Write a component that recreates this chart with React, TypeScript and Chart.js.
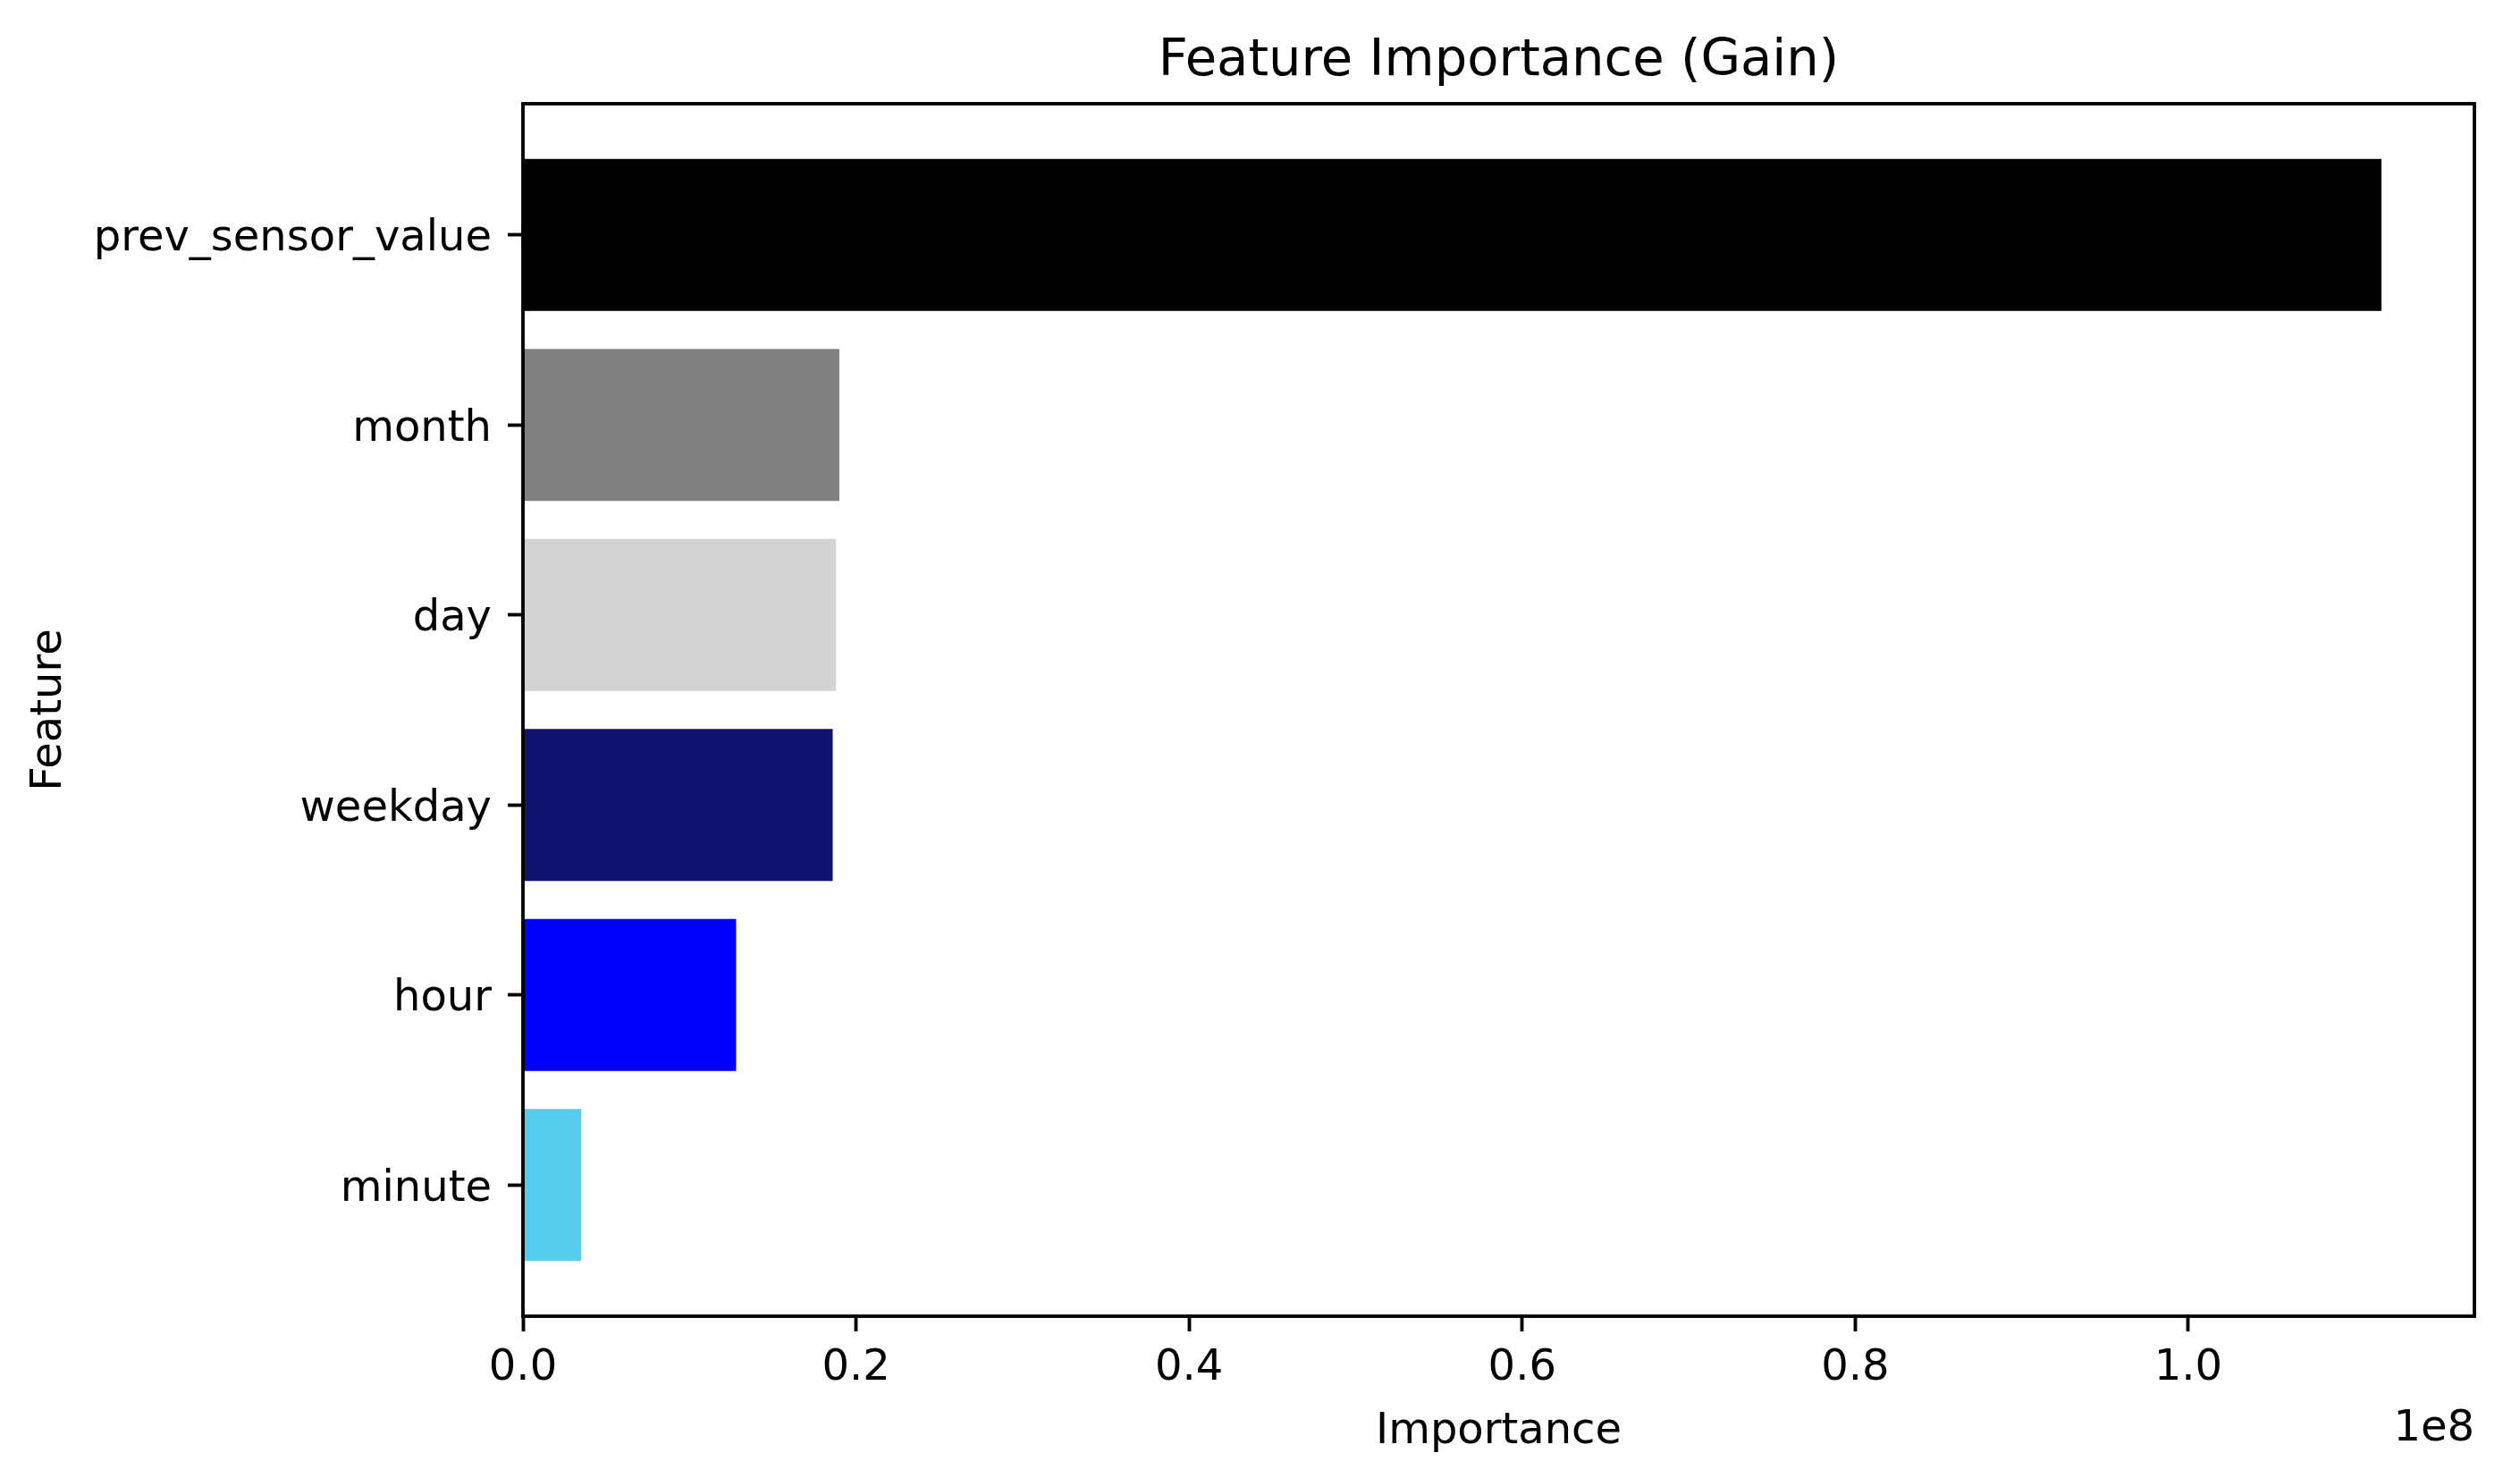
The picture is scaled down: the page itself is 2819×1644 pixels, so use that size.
import React, { useEffect, useRef } from "react";
import { Chart, registerables } from "chart.js";

Chart.register(...registerables);

// ---- data ----
const features = ["prev_sensor_value", "month", "day", "weekday", "hour", "minute"];
const importance = [1.116e8, 1.9e7, 1.88e7, 1.86e7, 1.28e7, 0.35e7];
const barColors = ["#000000", "#808080", "#d3d3d3", "#121270", "#0000ff", "#56cdea"];
const xTickValues = [0, 0.2e8, 0.4e8, 0.6e8, 0.8e8, 1.0e8];
const chartTitle = "Feature Importance (Gain)";
const xAxisTitle = "Importance";
const yAxisTitle = "Feature";
const offsetText = "1e8";

const FONT = "'DejaVu Sans', 'Liberation Sans', sans-serif";
const W = 2819;
const H = 1644;
const LINE = 3.85;

export default function App() {
  const ref = useRef<HTMLCanvasElement | null>(null);

  useEffect(() => {
    document.body.style.margin = "0";
    document.body.style.overflow = "hidden";
    const canvas = ref.current;
    if (!canvas) return;

    const n = features.length;
    const yMin = -0.4 - 0.05 * (n - 1 + 0.8);
    const yMax = n - 1 + 0.4 + 0.05 * (n - 1 + 0.8);
    const xMax = Math.max(...importance) * 1.05;

    const decorations = {
      id: "decorations",
      afterDraw(chart: any) {
        const { ctx, chartArea } = chart;
        const { left, right, top, bottom } = chartArea;
        ctx.save();
        ctx.strokeStyle = "#000";
        ctx.lineWidth = LINE;
        ctx.strokeRect(left, top, right - left, bottom - top);
        ctx.fillStyle = "#000";
        const cx = (left + right) / 2;
        // title
        ctx.font = `57.6px ${FONT}`;
        ctx.textAlign = "center";
        ctx.textBaseline = "alphabetic";
        ctx.fillText(chartTitle, cx, 84);
        // x title
        ctx.font = `48px ${FONT}`;
        ctx.fillText(xAxisTitle, cx, 1614);
        // offset text
        ctx.textAlign = "right";
        ctx.fillText(offsetText, right, 1611);
        // y title
        ctx.translate(68, (top + bottom) / 2);
        ctx.rotate(-Math.PI / 2);
        ctx.textAlign = "center";
        ctx.fillText(yAxisTitle, 0, 0);
        ctx.restore();
      },
    };

    const chart = new Chart(canvas, {
      type: "bar",
      data: {
        datasets: [
          {
            data: importance.map((v, i) => ({ x: v, y: i })),
            backgroundColor: barColors,
            borderWidth: 0,
            barPercentage: 0.8,
            categoryPercentage: 1,
          },
        ],
      },
      options: {
        indexAxis: "y",
        responsive: false,
        animation: false,
        devicePixelRatio: 1,
        layout: { padding: { top: 116, right: 51, left: 0, bottom: 0 } },
        plugins: {
          legend: { display: false },
          title: { display: false },
          tooltip: { enabled: false },
        },
        scales: {
          x: {
            type: "linear",
            min: 0,
            max: xMax,
            offset: false,
            afterBuildTicks: (scale: any) => {
              scale.ticks = xTickValues.map((v) => ({ value: v }));
            },
            afterFit: (scale: any) => {
              scale.height = H - 1472;
            },
            grid: {
              offset: false,
              drawOnChartArea: false,
              drawTicks: true,
              tickLength: 17,
              tickWidth: LINE,
              tickColor: "#000",
            },
            border: { display: false },
            ticks: {
              color: "#000",
              font: { family: FONT, size: 48 },
              padding: 13,
              maxRotation: 0,
              callback: (v: any) => (Number(v) / 1e8).toFixed(1),
            },
          },
          y: {
            type: "linear",
            reverse: true,
            min: yMin,
            max: yMax,
            offset: false,
            afterBuildTicks: (scale: any) => {
              scale.ticks = features.map((_, i) => ({ value: i }));
            },
            afterFit: (scale: any) => {
              scale.width = 585;
            },
            grid: {
              offset: false,
              drawOnChartArea: false,
              drawTicks: true,
              tickLength: 17,
              tickWidth: LINE,
              tickColor: "#000",
            },
            border: { display: false },
            ticks: {
              color: "#000",
              font: { family: FONT, size: 48 },
              padding: 18,
              labelOffset: 5,
              callback: (v: any) => features[Math.round(Number(v))] ?? "",
            },
          },
        },
      },
      plugins: [decorations],
    } as any);

    return () => chart.destroy();
  }, []);

  return (
    <div style={{ width: W, height: H, background: "#fff" }}>
      <canvas ref={ref} width={W} height={H} style={{ width: W, height: H, display: "block" }} />
    </div>
  );
}
